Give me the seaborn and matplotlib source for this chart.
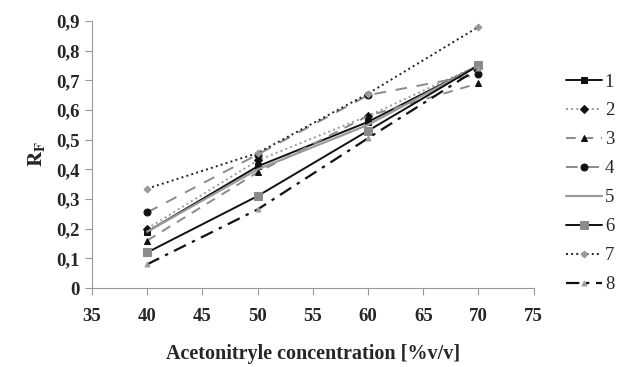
import matplotlib
matplotlib.use("Agg")
import matplotlib.pyplot as plt
import seaborn as sns
import pandas as pd

sns.set_style("white")
plt.rcParams['font.family'] = ['Liberation Serif', 'DejaVu Serif']
plt.rcParams['mathtext.fontset'] = 'stix'

concentration = [40, 50, 60, 70]
s1 = [0.19, 0.41, 0.56, 0.75]
s2 = [0.20, 0.43, 0.58, 0.75]
s3 = [0.16, 0.39, 0.58, 0.69]
s4 = [0.255, 0.45, 0.65, 0.72]
s5 = [0.19, 0.40, 0.55, 0.75]
s6 = [0.12, 0.31, 0.53, 0.75]
s7 = [0.335, 0.455, 0.655, 0.88]
s8 = [0.08, 0.265, 0.505, 0.74]
series_names = ["1", "2", "3", "4", "5", "6", "7", "8"]
x_ticks = [35, 40, 45, 50, 55, 60, 65, 70, 75]
y_ticks = [0, 0.1, 0.2, 0.3, 0.4, 0.5, 0.6, 0.7, 0.8, 0.9]
y_tick_labels = ["0", "0,1", "0,2", "0,3", "0,4", "0,5", "0,6", "0,7", "0,8", "0,9"]

all_series = [s1, s2, s3, s4, s5, s6, s7, s8]
rows = []
for name, vals in zip(series_names, all_series):
    for c, v in zip(concentration, vals):
        rows.append({"conc": c, "rf": v, "series": name})
df = pd.DataFrame(rows)

styles = {
    "1": dict(color="#111111", ls="-", marker="s", mfc="#111111", mec="#111111", ms=4.5, lw=1.4),
    "2": dict(color="#9a9a9a", ls=":", marker="D", mfc="#111111", mec="#111111", ms=4.5, lw=1.4),
    "3": dict(color="#8a8a8a", ls=(0, (5, 4)), marker="^", mfc="#111111", mec="#111111", ms=4.5, lw=1.4),
    "4": dict(color="#8a8a8a", ls=(0, (6, 5)), marker="o", mfc="#111111", mec="#111111", ms=5, lw=1.4),
    "5": dict(color="#9a9a9a", ls="-", marker=None, mfc="#111111", mec="#111111", ms=5, lw=1.6),
    "6": dict(color="#111111", ls="-", marker="s", mfc="#8a8a8a", mec="#8a8a8a", ms=5.5, lw=1.4),
    "7": dict(color="#222222", ls=":", marker="D", mfc="#9a9a9a", mec="#9a9a9a", ms=3.5, lw=1.4),
    "8": dict(color="#111111", ls=(0, (6, 3, 1.5, 3)), marker="^", mfc="#9a9a9a", mec="#9a9a9a", ms=3.5, lw=1.6),
}

fig = plt.figure(figsize=(6.17, 3.67), dpi=100)
ax = fig.add_axes([0.149, 0.215, 0.716, 0.728])

for name in series_names:
    st = styles[name]
    sub = df[df["series"] == name]
    sns.lineplot(data=sub, x="conc", y="rf", ax=ax, color=st["color"], linestyle=st["ls"],
                 linewidth=st["lw"], marker=st["marker"], markersize=st["ms"],
                 markerfacecolor=st["mfc"], markeredgecolor=st["mec"], label=name,
                 legend=False)

ax.set_xlim(35, 75)
ax.set_ylim(0, 0.9)
ax.set_xticks(x_ticks)
ax.set_yticks(y_ticks)
ax.set_yticklabels(y_tick_labels)
for lab in ax.get_xticklabels() + ax.get_yticklabels():
    lab.set_fontweight("bold")
    lab.set_fontsize(13.5)
ax.tick_params(axis="both", which="both", length=5, width=0.8, color="#999999",
               direction="out", bottom=True, left=True, pad=4)
ax.tick_params(axis="x", pad=9)
for side in ["top", "right"]:
    ax.spines[side].set_visible(False)
for side in ["left", "bottom"]:
    ax.spines[side].set_color("#999999")
    ax.spines[side].set_linewidth(0.8)

ax.set_xlabel("Acetonitryle concentration [%v/v]", fontsize=14.5, fontweight="bold", labelpad=14)
ax.set_ylabel(r"$\mathbf{R_F}$", fontsize=15, labelpad=6)

handles = ax.get_lines()
leg = fig.legend(handles=handles, labels=series_names, loc="upper left",
                 bbox_to_anchor=(0.918, 0.80), frameon=False, fontsize=13.5,
                 handlelength=1.9, labelspacing=0.63, handletextpad=0.15,
                 borderpad=0, borderaxespad=0)

fig.savefig("out.png", dpi=100)
